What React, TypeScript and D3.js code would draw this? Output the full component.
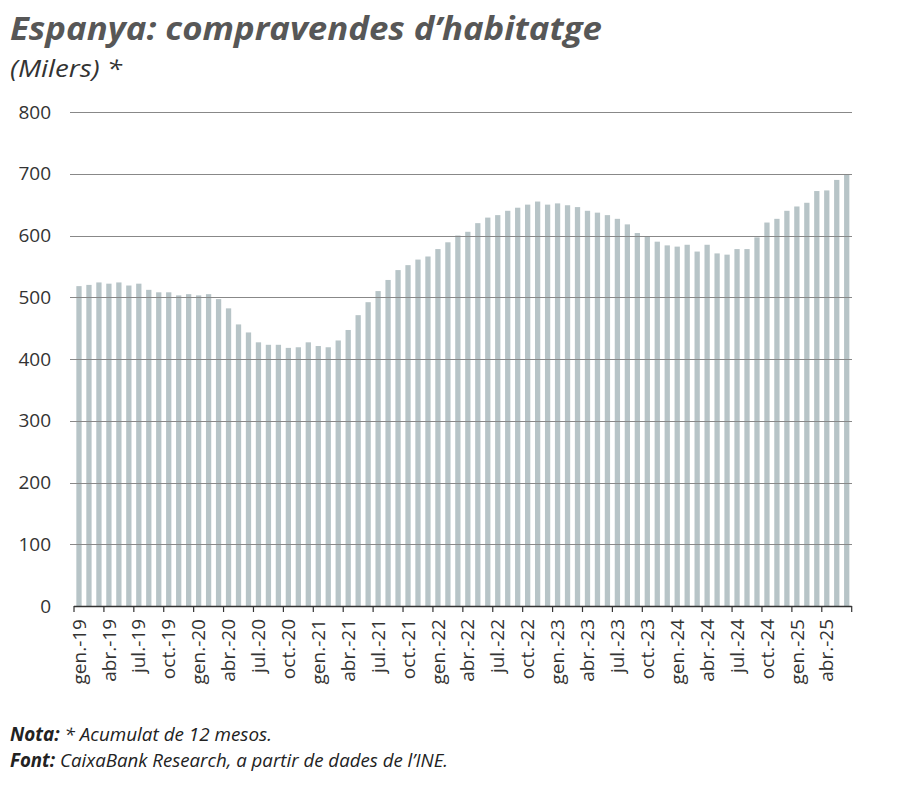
import React from "react";
import * as d3 from "d3";

// Compravendes d'habitatge, acumulat 12 mesos (milers), gen.-19 .. juny-25
const values: number[] = [
  518, 520, 524, 522, 524, 519, 522, 512, 508, 508, 503, 505,
  503, 505, 497, 482, 456, 443, 427, 423, 423, 418, 419, 427,
  421, 419, 430, 447, 471, 492, 510, 528, 544, 552, 561, 566,
  578, 589, 600, 606, 620, 629, 633, 640, 645, 650, 655, 650,
  652, 649, 646, 640, 637, 633, 627, 618, 604, 599, 590, 584,
  582, 585, 574, 585, 571, 569, 578, 578, 597, 621, 627, 640,
  647, 653, 672, 673, 690, 699,
];

const tickLabels: string[] = [
  "gen.-19", "abr.-19", "jul.-19", "oct.-19",
  "gen.-20", "abr.-20", "jul.-20", "oct.-20",
  "gen.-21", "abr.-21", "jul.-21", "oct.-21",
  "gen.-22", "abr.-22", "jul.-22", "oct.-22",
  "gen.-23", "abr.-23", "jul.-23", "oct.-23",
  "gen.-24", "abr.-24", "jul.-24", "oct.-24",
  "gen.-25", "abr.-25",
];

const yTicks: number[] = [0, 100, 200, 300, 400, 500, 600, 700, 800];

const W = 900;
const H = 796;
const FONT = "'Open Sans', 'Noto Sans', sans-serif";

export default function App() {
  const left = 74;
  const right = 851.7;
  const x = d3
    .scaleBand<number>()
    .domain(d3.range(values.length))
    .range([left, right])
    .paddingInner(0.47)
    .paddingOuter(0.235);
  const step = x.step();
  const y = d3.scaleLinear().domain([0, 800]).range([606, 112]);

  const tickIdx = d3.range(0, values.length + 1, 3);

  return (
    <svg
      width={W}
      height={H}
      style={{ position: "absolute", left: 0, top: 0, background: "#fff" }}
      fontFamily={FONT}
    >
      <text
        x={10}
        y={40}
        fontSize={32}
        fontWeight={700}
        fontStyle="italic"
        fill="#575757"
        textLength={592}
        lengthAdjust="spacingAndGlyphs"
      >
        Espanya: compravendes d’habitatge
      </text>
      <text
        x={10}
        y={77}
        fontSize={24}
        fontStyle="italic"
        fill="#333"
        textLength={112}
        lengthAdjust="spacingAndGlyphs"
      >
        (Milers) *
      </text>

      {/* bars */}
      {values.map((v, i) => (
        <rect
          key={i}
          x={x(i)}
          y={y(v)}
          width={x.bandwidth()}
          height={y(0) - y(v)}
          fill="#b7c4c7"
        />
      ))}

      {/* gridlines */}
      {yTicks
        .filter((t) => t > 0)
        .map((t) => (
          <line
            key={t}
            x1={70}
            x2={852}
            y1={Math.round(y(t)) + 0.5}
            y2={Math.round(y(t)) + 0.5}
            stroke="#888"
            strokeWidth={1}
          />
        ))}

      {/* y labels */}
      {yTicks.map((t) => (
        <text
          key={t}
          x={51}
          y={y(t)}
          dy="0.35em"
          textAnchor="end"
          fontSize={19}
          fill="#333"
        >
          {t}
        </text>
      ))}

      {/* x axis */}
      <line x1={left} x2={right} y1={606.5} y2={606.5} stroke="#333" strokeWidth={1.3} />
      {tickIdx.map((i) => (
        <line
          key={i}
          x1={left + i * step}
          x2={left + i * step}
          y1={606}
          y2={612}
          stroke="#333"
          strokeWidth={1.2}
        />
      ))}
      {tickLabels.map((lab, k) => {
        const i = k * 3;
        const cx = (x(i) as number) + x.bandwidth() / 2;
        return (
          <text
            key={lab}
            transform={`translate(${cx},${619}) rotate(-90)`}
            textAnchor="end"
            dy="0.35em"
            fontSize={19}
            fill="#333"
          >
            {lab}
          </text>
        );
      })}

      {/* notes */}
      <text
        x={10}
        y={741}
        fontSize={19}
        fill="#222"
        fontStyle="italic"
        textLength={262}
        lengthAdjust="spacingAndGlyphs"
      >
        <tspan fontWeight={700}>Nota:</tspan>
        <tspan> * Acumulat de 12 mesos.</tspan>
      </text>
      <text
        x={10}
        y={767}
        fontSize={19}
        fill="#222"
        fontStyle="italic"
        textLength={438}
        lengthAdjust="spacingAndGlyphs"
      >
        <tspan fontWeight={700}>Font:</tspan>
        <tspan> CaixaBank Research, a partir de dades de l’INE.</tspan>
      </text>
    </svg>
  );
}
